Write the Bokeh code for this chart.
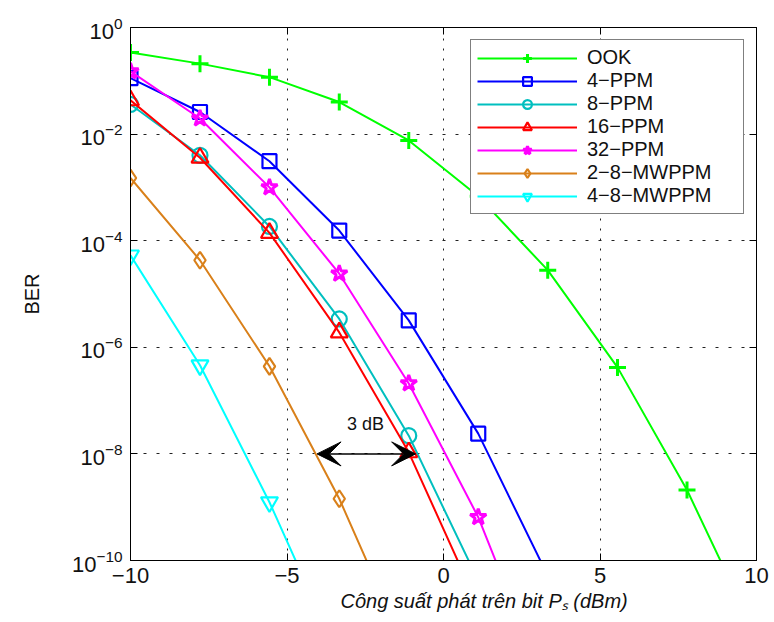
from bokeh.plotting import figure
from bokeh.models import (Range1d, FixedTicker, LinearAxis, LogAxis, Legend, LegendItem,
                          Arrow, VeeHead, Label, Title, CustomJSTickFormatter)
from bokeh.embed import file_html
from bokeh.resources import INLINE

# ---------------- data ----------------
power_dbm = [-10, -7.78, -5.56, -3.33, -1.11, 1.11, 3.33, 5.56, 7.78, 10]

ber_ook = [0.34, 0.21, 0.117, 0.040, 7.6e-3, 6.8e-4, 2.8e-5, 4.2e-7, 2.1e-9, 3.7e-12]
ber_4ppm = [0.112, 0.026, 3.1e-3, 1.55e-4, 3.2e-6, 2.4e-8, 5.2e-11]
ber_8ppm = [0.036, 4.0e-3, 1.85e-4, 3.4e-6, 2.2e-8, 4.2e-11]
ber_16ppm = [0.043, 3.6e-3, 1.4e-4, 1.9e-6, 1.07e-8, 1.4e-11]
ber_32ppm = [0.15, 0.0196, 1.0e-3, 2.4e-5, 2.1e-7, 6.5e-10, 3.5e-13]
ber_2_8_mwppm = [1.5e-3, 4.3e-5, 4.4e-7, 1.44e-9, 1.6e-12]
ber_4_8_mwppm = [5.3e-5, 4.6e-7, 1.24e-9, 1.5e-12]

labels = ["OOK", "4\u2212PPM", "8\u2212PPM", "16\u2212PPM", "32\u2212PPM",
          "2\u22128\u2212MWPPM", "4\u22128\u2212MWPPM"]
colors = ["#00ff00", "#0000ff", "#00bfbf", "#ff0000", "#ff00ff", "#d9801a", "#00ffff"]
markers = ["cross", "square", "circle", "triangle", "star", "diamond", "inverted_triangle"]
marker_sizes = [17, 14, 15, 17, 17, 17, 17]
marker_widths = [3, 2.2, 2.2, 2.2, 3, 2.2, 2.2]
all_ber = [ber_ook, ber_4ppm, ber_8ppm, ber_16ppm, ber_32ppm, ber_2_8_mwppm, ber_4_8_mwppm]

x_ticks = [-10, -5, 0, 5, 10]
y_ticks = [1e-10, 1e-8, 1e-6, 1e-4, 1e-2, 1]

x_title = "C\u00f4ng su\u1ea5t ph\u00e1t tr\u00ean bit P\u209b (dBm)"

arrow_x = [-4.04, -0.89]
arrow_y = 1e-8
note_text = "3 dB"
note_pos = (-2.49, 3.7e-8)

FONT = "Liberation Sans"

p = figure(width=772, height=620, x_range=Range1d(-10, 10), y_range=Range1d(1e-10, 1),
           y_axis_type="log", output_backend="svg", toolbar_location=None,
           min_border_left=130, min_border_top=27, min_border_right=16, min_border_bottom=60)
p.background_fill_color = "white"
p.border_fill_color = "white"
p.outline_line_color = "black"
p.outline_line_width = 1

# grid
p.xgrid.ticker = FixedTicker(ticks=x_ticks)
p.ygrid.ticker = FixedTicker(ticks=y_ticks)
p.xgrid.grid_line_color = "#222222"
p.xgrid.grid_line_dash = "2 8"
p.ygrid.grid_line_color = "#222222"
p.ygrid.grid_line_dash = "3 10"
p.grid.grid_line_width = 1

# axes
xax = p.xaxis[0]
xax.ticker = FixedTicker(ticks=x_ticks)
xax.major_label_overrides = {-10: "\u221210", -5: "\u22125"}
yax = p.yaxis[0]
yax.ticker = FixedTicker(ticks=y_ticks)

for ax in (xax, yax):
    ax.major_tick_in = 7
    ax.major_tick_out = 0
    ax.minor_tick_line_color = None
    ax.axis_line_color = "black"
    ax.major_tick_line_color = "black"
    ax.major_label_text_font = FONT
    ax.major_label_text_font_size = "22px"
    ax.major_label_text_color = "#111111"
    ax.axis_label_text_font = FONT
    ax.axis_label_text_color = "#111111"

xax.major_label_standoff = 7

yax.major_label_standoff = 8
yax.axis_label = "BER"
yax.axis_label_text_font_size = "20px"
yax.axis_label_text_font_style = "normal"
yax.axis_label_standoff = 26

blank = CustomJSTickFormatter(code="return ''")
top_ax = LinearAxis(ticker=FixedTicker(ticks=x_ticks), formatter=blank,
                    major_label_standoff=0, major_tick_in=7, major_tick_out=0,
                    minor_tick_line_color=None)
right_ax = LogAxis(ticker=FixedTicker(ticks=y_ticks), formatter=blank,
                   major_label_standoff=0, major_tick_in=7, major_tick_out=0,
                   minor_tick_line_color=None)
p.add_layout(top_ax, "above")
p.add_layout(right_ax, "right")

items = []
for lab, col, mk, ms, mw, ber in zip(labels, colors, markers, marker_sizes, marker_widths, all_ber):
    xs = power_dbm[:len(ber)]
    lr = p.line(xs, ber, line_color=col, line_width=2)
    mr = p.scatter(xs, ber, marker=mk, size=ms, line_color=col,
                   line_width=mw, fill_color=None)
    items.append(LegendItem(label=lab, renderers=[lr, mr]))

legend = Legend(items=items, location="top_right", margin=12,
                glyph_width=100, glyph_height=22, spacing=0, padding=6,
                label_standoff=10, label_width=150, label_height=22,
                label_text_font=FONT, label_text_font_size="20px",
                label_text_color="#111111",
                border_line_color="black", border_line_width=1,
                background_fill_color="white", background_fill_alpha=1.0)
p.add_layout(legend)

p.add_layout(Arrow(start=VeeHead(size=24, fill_color="black", line_color="black"),
                   end=VeeHead(size=24, fill_color="black", line_color="black"),
                   x_start=arrow_x[0], y_start=arrow_y, x_end=arrow_x[1], y_end=arrow_y,
                   line_color="black", line_width=1.5))
p.add_layout(Label(x=note_pos[0], y=note_pos[1], text=note_text, text_align="center",
                   text_baseline="middle", text_font=FONT, text_font_size="18px",
                   text_color="#111111"))

# x-axis title, set a little right of centre as in the reference
p.add_layout(Title(text=x_title, align="left", offset=210, text_font=FONT,
                   text_font_size="20px", text_font_style="italic",
                   text_color="#111111", standoff=5), "below")

open("out.html", "w").write(file_html(p, INLINE))
